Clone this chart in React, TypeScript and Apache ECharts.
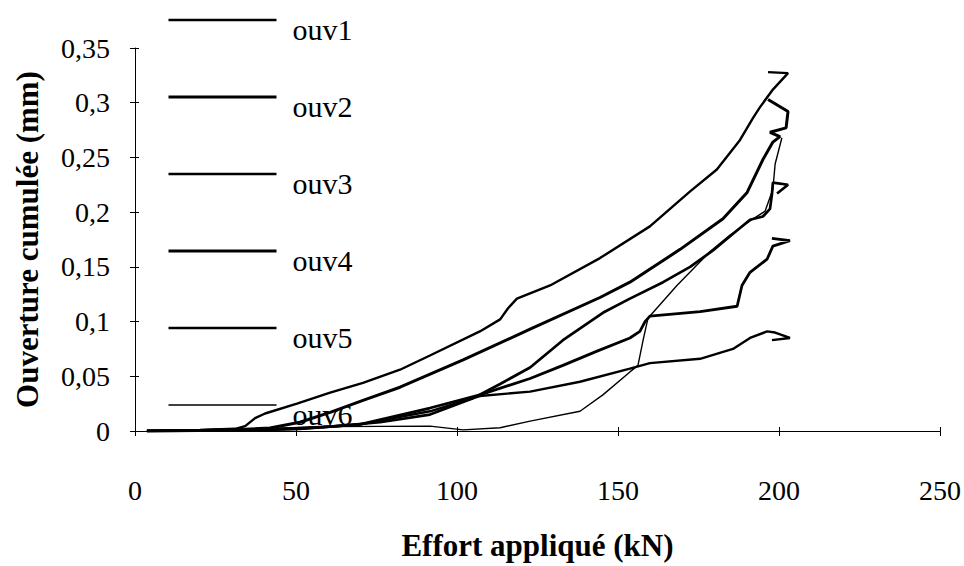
import React, { useEffect, useRef } from "react";
import * as echarts from "echarts";

// Effort appliqué (kN) vs ouverture cumulée (mm)
const seriesNames = ["ouv1", "ouv2", "ouv3", "ouv4", "ouv5", "ouv6"];

const ouv1: number[][] = [
  [3.7, 0], [20.2, 0.001], [31.1, 0.002], [34.2, 0.0045], [37.3, 0.0118], [40.4, 0.016],
  [50.3, 0.025], [60.6, 0.035], [70.8, 0.044], [82.3, 0.056], [91.6, 0.069], [107.1, 0.091],
  [113.4, 0.102], [115.8, 0.112], [118.6, 0.121], [128.9, 0.133], [144.4, 0.158], [159.9, 0.187],
  [172.4, 0.219], [180.7, 0.239], [187.9, 0.266], [191.9, 0.286], [194.1, 0.296], [198.1, 0.312],
  [202.8, 0.327], [196.6, 0.328],
];
const ouv2: number[][] = [
  [3.7, 0], [20.2, 0.0005], [32.6, 0.0014], [41.9, 0.0027], [51.2, 0.008], [60.6, 0.017],
  [70.8, 0.028], [82.3, 0.04], [101.9, 0.065], [122.7, 0.093], [144.4, 0.122], [153.7, 0.136],
  [169.3, 0.166], [182.6, 0.194], [190.1, 0.218], [195.0, 0.248], [198.1, 0.264], [200.3, 0.269],
  [197.2, 0.273], [202.2, 0.277], [202.8, 0.292], [196.6, 0.303],
];
const ouv3: number[][] = [
  [3.7, 0], [35.7, 0.0005], [60.6, 0.004], [76.1, 0.008], [91.6, 0.015], [105.0, 0.03],
  [113.4, 0.043], [122.7, 0.058], [132.9, 0.083], [145.3, 0.108], [153.7, 0.121], [164.0, 0.136],
  [172.4, 0.15], [179.5, 0.165], [184.8, 0.178], [191.0, 0.193], [195.0, 0.196], [197.2, 0.203],
  [197.8, 0.216], [198.1, 0.227], [202.8, 0.225], [199.4, 0.217],
];
const ouv4: number[][] = [
  [3.7, 0], [35.7, 0.001], [51.2, 0.002], [69.9, 0.006], [91.6, 0.021], [107.1, 0.033],
  [122.7, 0.048], [132.9, 0.06], [143.5, 0.073], [153.7, 0.085], [156.8, 0.091], [158.4, 0.1],
  [159.9, 0.105], [175.5, 0.109], [187.0, 0.114], [188.5, 0.133], [191.0, 0.145], [196.3, 0.157],
  [198.1, 0.169], [203.4, 0.174], [197.8, 0.176],
];
const ouv5: number[][] = [
  [3.7, 0], [35.7, 0.0005], [51.2, 0.002], [69.9, 0.006], [91.6, 0.018], [107.1, 0.032],
  [122.7, 0.036], [138.2, 0.045], [153.7, 0.057], [159.9, 0.062], [175.5, 0.066], [185.7, 0.075],
  [191.0, 0.085], [196.3, 0.091], [198.8, 0.09], [203.4, 0.085], [197.8, 0.083],
];
const ouv6: number[][] = [
  [3.7, 0], [35.7, 0.002], [60.6, 0.004], [91.6, 0.0045], [101.9, 0.001], [113.4, 0.003],
  [122.7, 0.009], [138.2, 0.018], [145.3, 0.033], [153.7, 0.054], [156.2, 0.06], [157.8, 0.083],
  [159.3, 0.103], [168.3, 0.133], [178.6, 0.164], [184.8, 0.179], [191.0, 0.192], [195.7, 0.201],
  [198.1, 0.221], [198.8, 0.244], [200.9, 0.268],
];
const seriesData = [ouv1, ouv2, ouv3, ouv4, ouv5, ouv6];
const lineWidths = [2.4, 3, 2.7, 2.8, 2.4, 1.4];

const xTicks = [0, 50, 100, 150, 200, 250];
const xTickLabels = ["0", "50", "100", "150", "200", "250"];
const yTicks = [0, 0.05, 0.1, 0.15, 0.2, 0.25, 0.3, 0.35];
const yTickLabels = ["0", "0,05", "0,1", "0,15", "0,2", "0,25", "0,3", "0,35"];

const FONT = "'Liberation Serif', 'Times New Roman', serif";

export default function App() {
  const ref = useRef<HTMLDivElement>(null);
  useEffect(() => {
    if (!ref.current) return;
    const chart = echarts.init(ref.current, null, { renderer: "svg" });
    const xStep = xTicks[1] - xTicks[0];
    const yStep = yTicks[1] - yTicks[0];
    const xMin = xTicks[0];
    const xMax = xTicks[xTicks.length - 1];
    const yMin = yTicks[0];
    const yMax = yTicks[yTicks.length - 1];
    const black = "#000";
    const option: any = {
      animation: false,
      backgroundColor: "#fff",
      grid: { left: 135, right: 24, top: 48, bottom: 133 },
      legend: {
        orient: "vertical",
        left: 167,
        top: -10,
        padding: 0,
        itemWidth: 108,
        itemHeight: 10,
        itemGap: 23,
        selectedMode: false,
        data: seriesNames.map((n, i) => ({
          name: n,
          lineStyle: { width: lineWidths[i], color: black },
          itemStyle: { opacity: 0 },
        })),
        formatter: (name: string) => "\n{t|" + name + "}",
        textStyle: {
          fontSize: 30,
          lineHeight: 18,
          fontFamily: FONT,
          color: black,
          rich: {
            t: { fontSize: 30, lineHeight: 30, fontFamily: FONT, color: black, padding: [0, 0, 0, 11] },
          },
        },
      },
      xAxis: [
        {
          type: "value",
          min: xMin,
          max: xMax,
          interval: xStep,
          name: "Effort appliqué (kN)",
          nameLocation: "middle",
          nameGap: 99,
          nameTextStyle: { fontSize: 31, fontWeight: "bold", fontFamily: FONT, color: black },
          axisLine: { show: true, lineStyle: { color: black, width: 1 } },
          axisTick: { show: true, length: 5, lineStyle: { color: black } },
          axisLabel: {
            fontSize: 28,
            fontFamily: FONT,
            color: black,
            margin: 45,
            formatter: (v: number) => xTickLabels[Math.round((v - xMin) / xStep)] ?? "",
          },
          splitLine: { show: false },
        },
        {
          type: "value",
          position: "bottom",
          min: xMin,
          max: xMax,
          interval: xStep,
          axisLine: { show: false },
          axisTick: { show: true, inside: true, length: 4, lineStyle: { color: black } },
          axisLabel: { show: false },
          splitLine: { show: false },
        },
      ],
      yAxis: [
        {
          type: "value",
          min: yMin,
          max: yMax,
          interval: yStep,
          name: "Ouverture cumulée (mm)",
          nameLocation: "middle",
          nameGap: 92,
          nameTextStyle: { fontSize: 31, fontWeight: "bold", fontFamily: FONT, color: black },
          axisLine: { show: true, lineStyle: { color: black, width: 1 } },
          axisTick: { show: true, length: 5, lineStyle: { color: black } },
          axisLabel: {
            fontSize: 28,
            fontFamily: FONT,
            color: black,
            margin: 25,
            formatter: (v: number) => yTickLabels[Math.round((v - yMin) / yStep)] ?? "",
          },
          splitLine: { show: false },
        },
        {
          type: "value",
          position: "left",
          min: yMin,
          max: yMax,
          interval: yStep,
          axisLine: { show: false },
          axisTick: { show: true, inside: true, length: 4, lineStyle: { color: black } },
          axisLabel: { show: false },
          splitLine: { show: false },
        },
      ],
      series: seriesNames.map((n, i) => ({
        name: n,
        type: "line",
        xAxisIndex: 0,
        yAxisIndex: 0,
        data: seriesData[i],
        showSymbol: false,
        symbol: "none",
        smooth: false,
        color: black,
        itemStyle: { color: black },
        lineStyle: { color: black, width: lineWidths[i] },
      })),
    };
    chart.setOption(option);
    return () => chart.dispose();
  }, []);
  return (
    <div
      ref={ref}
      style={{ position: "fixed", left: 0, top: 0, width: 964, height: 566, background: "#fff" }}
    />
  );
}
